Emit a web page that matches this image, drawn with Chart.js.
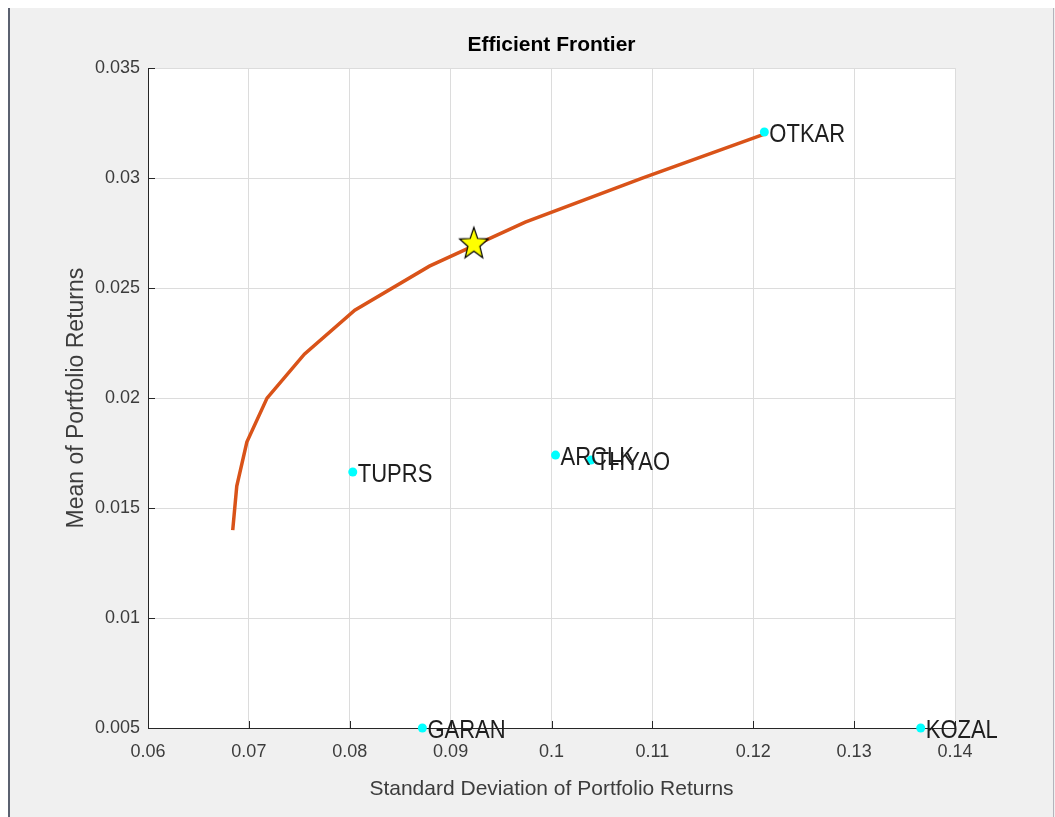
<!DOCTYPE html>
<html>
<head>
<meta charset="utf-8">
<title>Efficient Frontier</title>
<script src="https://cdn.jsdelivr.net/npm/chart.js@4.4.1/dist/chart.umd.min.js"></script>
<style>
  html, body { margin: 0; padding: 0; background: #f0f0f0; overflow: hidden; }
  canvas { display: block; }
</style>
</head>
<body>
<canvas id="graphFrontier" width="1055" height="817"></canvas>
<script>
// frontier (risk / return)
const frontierRisk = [0.0684, 0.0688, 0.0698, 0.0718, 0.0755, 0.0805, 0.0879, 0.0974, 0.1090, 0.1211];
const frontierReturn = [0.014, 0.016, 0.018, 0.020, 0.022, 0.024, 0.026, 0.028, 0.030, 0.032];

// single assets
const assetNames = ['OTKAR', 'TUPRS', 'ARCLK', 'THYAO', 'GARAN', 'KOZAL'];
const assetRisk = [0.1211, 0.0803, 0.1004, 0.1039, 0.0872, 0.1366];
const assetReturn = [0.0321, 0.01664, 0.01741, 0.01718, 0.005, 0.005];

// chosen portfolio (star)
const optimalRisk = [0.0923];
const optimalReturn = [0.0270];

const xTickValues = [0.06, 0.07, 0.08, 0.09, 0.10, 0.11, 0.12, 0.13, 0.14];
const xTickLabels = ['0.06', '0.07', '0.08', '0.09', '0.1', '0.11', '0.12', '0.13', '0.14'];
const yTickValues = [0.005, 0.010, 0.015, 0.020, 0.025, 0.030, 0.035];
const yTickLabels = ['0.005', '0.01', '0.015', '0.02', '0.025', '0.03', '0.035'];

const family = "'Liberation Sans', Arial, Helvetica, sans-serif";
const axisText = '#3c3c3c';

function makeStar(R) {
	const c = document.createElement('canvas');
	c.width = Math.ceil(R * 2 + 4);
	c.height = Math.ceil(R * 2.3 + 4);
	const g = c.getContext('2d');
	const cx = c.width / 2, cy = c.height / 2;
	g.beginPath();
	for (let i = 0; i < 10; ++i) {
		const a = -Math.PI / 2 + i * Math.PI / 5;
		const rad = (i % 2) ? R * 0.42 : R;
		g.lineTo(cx + rad * Math.cos(a), cy + rad * Math.sin(a) * 1.12);
	}
	g.closePath();
	g.fillStyle = '#ffff00';
	g.fill();
	g.strokeStyle = '#000000';
	g.lineWidth = 1.2;
	g.stroke();
	return c;
}

const figureFrame = {
	id: 'figureFrame',
	beforeDraw(chart) {
		const ctx = chart.ctx;
		const a = chart.chartArea;
		ctx.save();
		ctx.fillStyle = '#f0f0f0';
		ctx.fillRect(0, 0, chart.width, chart.height);
		ctx.fillStyle = '#ffffff';
		ctx.fillRect(0, 0, chart.width, 8);
		ctx.fillRect(0, 0, 8, chart.height);
		ctx.fillStyle = '#5b6170';
		ctx.fillRect(8, 8, 2, chart.height - 8);
		ctx.fillStyle = '#b4b4bc';
		ctx.fillRect(chart.width - 2, 8, 1, chart.height - 8);
		ctx.fillStyle = '#ffffff';
		ctx.fillRect(a.left, a.top, a.right - a.left, a.bottom - a.top);
		ctx.restore();
	}
};

// matlab style ticks pointing into the axes
const innerTicks = {
	id: 'innerTicks',
	afterDatasetsDraw(chart) {
		const ctx = chart.ctx;
		const a = chart.chartArea;
		const xs = chart.scales.x, ys = chart.scales.y;
		ctx.save();
		ctx.strokeStyle = '#262626';
		ctx.lineWidth = 1;
		ctx.beginPath();
		xTickValues.forEach(v => {
			const px = Math.round(xs.getPixelForValue(v)) + 0.5;
			ctx.moveTo(px, a.bottom);
			ctx.lineTo(px, a.bottom - 7);
		});
		yTickValues.forEach(v => {
			const py = Math.round(ys.getPixelForValue(v)) + 0.5;
			ctx.moveTo(a.left, py);
			ctx.lineTo(a.left + 7, py);
		});
		ctx.stroke();
		ctx.restore();
	}
};

// asset names next to the cyan points (a bit taller, like the original)
const assetLabels = {
	id: 'assetLabels',
	afterDatasetsDraw(chart) {
		const meta = chart.getDatasetMeta(1);
		const ctx = chart.ctx;
		ctx.save();
		ctx.font = '22px ' + family;
		ctx.fillStyle = '#1e1e1e';
		ctx.textAlign = 'left';
		ctx.textBaseline = 'middle';
		meta.data.forEach((pt, i) => {
			ctx.save();
			ctx.translate(pt.x + 5, pt.y + 3);
			ctx.scale(1, 1.18);
			ctx.fillText(assetNames[i], 0, 0);
			ctx.restore();
		});
		ctx.restore();
	}
};

const ctxFrontier = document.getElementById('graphFrontier');

const frontier = new Chart(ctxFrontier, {
	type: 'scatter',
	data: {
		datasets: [{
			label: 'Optimal',
			data: optimalRisk.map((x, i) => ({ x: x, y: optimalReturn[i] })),
			pointStyle: makeStar(15),
			pointRadius: 15,
			clip: false
		}, {
			label: 'Assets',
			data: assetRisk.map((x, i) => ({ x: x, y: assetReturn[i] })),
			backgroundColor: '#00ffff',
			borderColor: '#00ffff',
			pointRadius: 4.5,
			pointBorderWidth: 0,
			clip: false
		}, {
			label: 'Frontier',
			data: frontierRisk.map((x, i) => ({ x: x, y: frontierReturn[i] })),
			showLine: true,
			borderColor: '#d95319',
			borderWidth: 3.5,
			pointRadius: 0,
			fill: false,
			tension: 0
		}]
	},
	options: {
		responsive: false,
		animation: false,
		devicePixelRatio: 1,
		layout: { padding: { left: 0, right: 100, top: 0, bottom: 0 } },
		plugins: {
			legend: { display: false },
			tooltip: { enabled: false },
			title: {
				display: true,
				fullSize: false,
				text: 'Efficient Frontier',
				color: '#000000',
				font: { family: family, size: 21, weight: 'bold' },
				padding: { top: 33, bottom: 10 }
			}
		},
		scales: {
			x: {
				type: 'linear',
				min: 0.06,
				max: 0.14,
				afterBuildTicks: s => { s.ticks = xTickValues.map(v => ({ value: v })); },
				afterFit: s => { s.height = 89; },
				ticks: {
					callback: (v, i) => xTickLabels[i],
					color: axisText,
					font: { family: family, size: 18 },
					padding: 13,
					maxRotation: 0,
					autoSkip: false
				},
				grid: { color: '#dcdcdc', drawTicks: false },
				border: { color: '#262626', width: 1 },
				title: {
					display: true,
					text: 'Standard Deviation of Portfolio Returns',
					color: axisText,
					font: { family: family, size: 21 },
					padding: { top: 0, bottom: 15 }
				}
			},
			y: {
				type: 'linear',
				min: 0.005,
				max: 0.035,
				afterBuildTicks: s => { s.ticks = yTickValues.map(v => ({ value: v })); },
				afterFit: s => { s.width = 148; },
				ticks: {
					callback: (v, i) => yTickLabels[i],
					color: axisText,
					font: { family: family, size: 18 },
					padding: 8,
					autoSkip: false
				},
				grid: { color: '#dcdcdc', drawTicks: false },
				border: { color: '#262626', width: 1 },
				title: {
					display: true,
					text: 'Mean of Portfolio Returns',
					color: axisText,
					font: { family: family, size: 23 },
					padding: { top: 63, bottom: 0 }
				}
			}
		}
	},
	plugins: [figureFrame, innerTicks, assetLabels]
});
</script>
</body>
</html>
